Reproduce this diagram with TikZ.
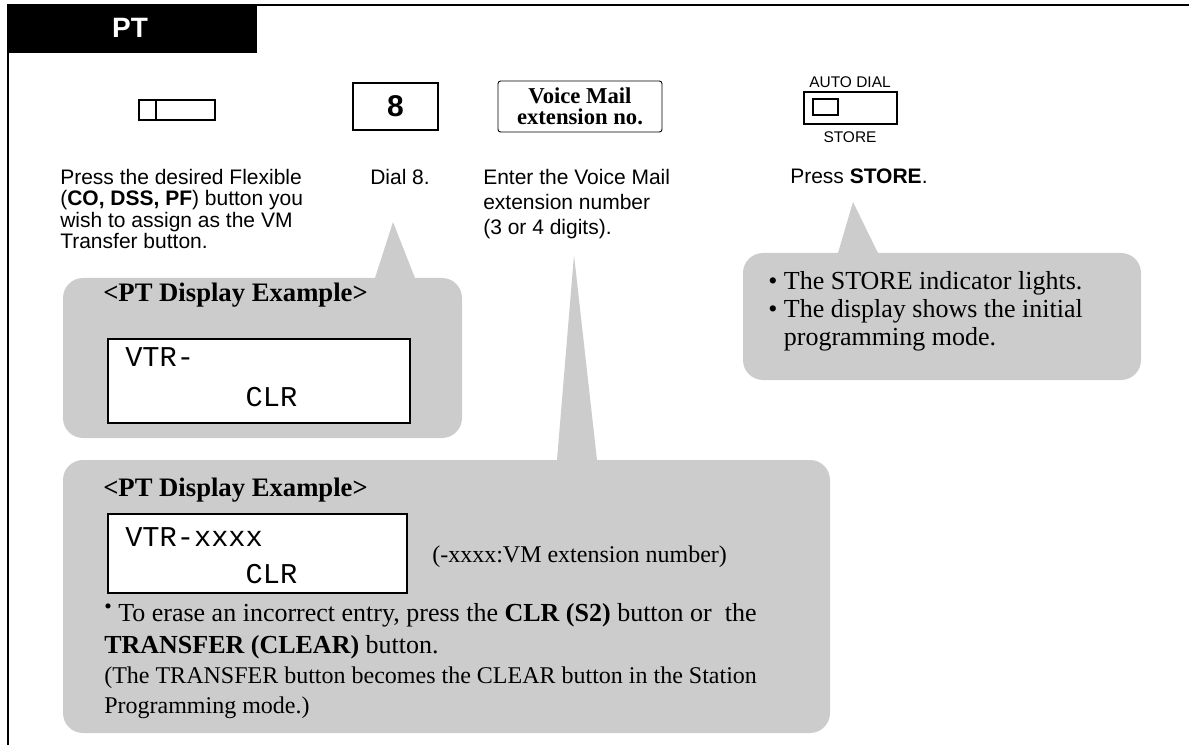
\documentclass[tikz,border=0pt]{standalone}
\usepackage{fontspec}
\setmainfont{Liberation Serif}
\setsansfont{Liberation Sans}
\setmonofont{Liberation Mono}
\usetikzlibrary{fit}
\definecolor{globogris}{HTML}{CCCCCC}
\begin{document}
\begin{tikzpicture}[
  x=0.75pt, y=-0.75pt,
  globo/.style={fill=globogris, rounded corners=15pt, inner sep=0pt},
  tecla/.style={draw=black, line width=1.5pt, inner sep=0pt},
  lcd/.style={draw=black, line width=0.8pt, fill=white, inner sep=0pt},
  paso/.style={font=\sffamily\fontsize{15.75pt}{18pt}\selectfont, align=left, inner sep=0pt, anchor=north west},
  nota/.style={font=\fontsize{19.5pt}{21pt}\selectfont, align=left, inner sep=0pt, anchor=north west},
  titulo/.style={font=\bfseries\fontsize{20pt}{24pt}\selectfont, inner sep=0pt, anchor=base west},
  pantalla/.style={font=\ttfamily\fontsize{21.5pt}{30pt}\selectfont, align=left, inner sep=0pt, anchor=north west},
  etiqueta/.style={font=\sffamily\fontsize{11.6pt}{12pt}\selectfont, inner sep=0pt}
]
\useasboundingbox (0,0) rectangle (1189,745);
% marco y pestana
\fill[black] (8,5) rectangle (257,53);
\draw[line width=2.2pt] (8,745) -- (8,5) -- (1189,5);
\node[font=\sffamily\bfseries\fontsize{21pt}{21pt}\selectfont, text=white] (pt) at (130,28) {PT};

% globos
\node[globo, fit={(63,278) (462,438)}] (globoA) {};
\fill[globogris] (375,278) -- (393,222) -- (415,278) -- cycle;
\node[globo, fit={(63,460) (830,733)}] (globoB) {};
\fill[globogris] (557,460) -- (574,255) -- (597,460) -- cycle;
\node[globo, fit={(743,253) (1141,380)}] (globoC) {};
\fill[globogris] (838,253) -- (853,202) -- (878,253) -- cycle;

% teclas
\node[tecla, fit={(139,100) (215,120)}] (flexible) {};
\draw[line width=1.5pt] ([xshift=13.5pt]flexible.north west) -- ([xshift=13.5pt]flexible.south west);
\node[tecla, line width=1.8pt, minimum width=63.75pt, minimum height=35.25pt,
  font=\sffamily\bfseries\fontsize{22.5pt}{22.5pt}\selectfont] (ocho) at (395.5,106.5) {8};
\node[draw=black, line width=0.7pt, rounded corners=2pt, inner sep=0pt, minimum width=123pt, minimum height=38.25pt,
  align=center, font=\bfseries\fontsize{17pt}{16pt}\selectfont] (vm) at (580,106.5) {Voice Mail\\extension no.};
\node[tecla, fit={(804,92) (897,124)}] (autodial) {};
\node[tecla, fit={(813,99) (838,115)}] (luz) {};
\node[etiqueta] (autolbl) at (850,82) {AUTO DIAL};
\node[etiqueta] (storelbl) at (850,137) {STORE};

% pasos
\node[paso, font=\sffamily\fontsize{15.75pt}{16pt}\selectfont] (paso1) at (60,169) {Press the desired Flexible\\(\textbf{CO, DSS, PF}) button you\\wish to assign as the VM\\Transfer button.};
\node[paso] (paso2) at (370,169) {Dial 8.};
\node[paso, font=\sffamily\fontsize{15.75pt}{18.75pt}\selectfont] (paso3) at (483,169) {Enter the Voice Mail\\extension number\\(3 or 4 digits).};
\node[paso] (paso4) at (790,169) {Press \textbf{STORE}.};

% ejemplo 1
\node[titulo] (tit1) at (103,302) {<PT Display Example>};
\node[lcd, fit={(108,339) (410,423)}] (lcd1) {};
\node[pantalla] (txt1) at (125,347) {VTR-\\\phantom{0000000}CLR};

% ejemplo 2
\node[titulo] (tit2) at (103,496) {<PT Display Example>};
\node[lcd, fit={(108,514) (407,593)}] (lcd2) {};
\node[pantalla, font=\ttfamily\fontsize{21.5pt}{28pt}\selectfont] (txt2) at (125,527) {VTR-xxxx\\\phantom{0000000}CLR};
\node[font=\fontsize{18pt}{18pt}\selectfont, inner sep=0pt, anchor=base west] (ext) at (432,562) {(-xxxx:VM extension number)};
\node[nota, font=\fontsize{19.5pt}{24pt}\selectfont] (borrar) at (104,603)
  {\makebox[10.5pt][l]{\raisebox{0.3em}{\fontsize{16pt}{16pt}\selectfont\textbullet}}To erase an incorrect entry, press the \textbf{CLR (S2)} button or\ \ the\\\textbf{TRANSFER (CLEAR)} button.};
\node[nota, font=\fontsize{18pt}{22.5pt}\selectfont] (aviso) at (104,667)
  {(The TRANSFER button becomes the CLEAR button in the Station\\Programming mode.)};

% store
\node[nota] (luces) at (768,271) {\textbullet\ The STORE indicator lights.\\\textbullet\ The display shows the initial\\\phantom{\textbullet\ }programming mode.};
\end{tikzpicture}
\end{document}
